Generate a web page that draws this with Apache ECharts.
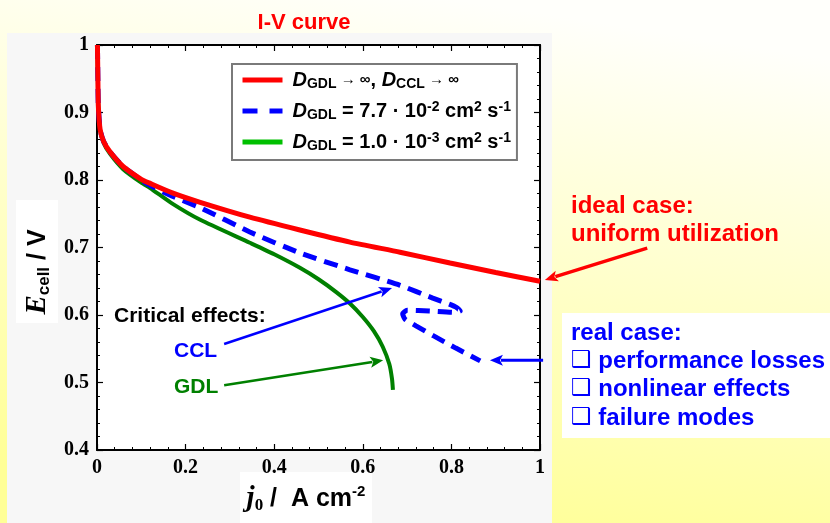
<!DOCTYPE html>
<html>
<head>
<meta charset="utf-8">
<script src="https://cdn.jsdelivr.net/npm/echarts@6/dist/echarts.min.js"></script>
<style>
  html, body { margin: 0; padding: 0; }
  #chart { width: 830px; height: 523px; }
</style>
</head>
<body>
<div id="chart"></div>
<script>
// Cell voltage E_cell (V) versus mean current density j0 (A cm^-2)

// Ideal case: infinite diffusivities in GDL and CCL
const currentIdeal = [0.001, 0.002, 0.003, 0.007, 0.015, 0.029, 0.059, 0.1, 0.12, 0.17, 0.233, 0.345, 0.458, 0.571, 0.684, 0.797, 0.9, 1.0];
const voltageIdeal = [1.0, 0.95, 0.91, 0.875, 0.857, 0.842, 0.820, 0.801, 0.795, 0.781, 0.767, 0.745, 0.726, 0.708, 0.693, 0.677, 0.663, 0.650];

// D_GDL = 7.7e-2 cm2/s: curve folds back near 0.82 A/cm2
const currentCCL = [0.001, 0.002, 0.003, 0.007, 0.015, 0.029, 0.059, 0.1, 0.12, 0.17, 0.233, 0.345, 0.458, 0.571, 0.684, 0.758, 0.795, 0.812, 0.820, 0.808, 0.75, 0.70, 0.69, 0.695, 0.72, 0.76, 0.81, 0.865];
const voltageCCL = [1.0, 0.95, 0.91, 0.875, 0.857, 0.842, 0.820, 0.800, 0.792, 0.776, 0.759, 0.723, 0.692, 0.667, 0.644, 0.625, 0.616, 0.611, 0.606, 0.604, 0.606, 0.607, 0.602, 0.594, 0.584, 0.569, 0.551, 0.532];

// D_GDL = 1.0e-3 cm2/s: limiting current near 0.67 A/cm2
const currentGDL = [0.001, 0.002, 0.003, 0.007, 0.015, 0.029, 0.059, 0.1, 0.12, 0.17, 0.233, 0.345, 0.40, 0.458, 0.50, 0.54, 0.571, 0.6, 0.625, 0.645, 0.66, 0.666, 0.668];
const voltageGDL = [1.0, 0.95, 0.91, 0.874, 0.855, 0.839, 0.816, 0.796, 0.788, 0.765, 0.741, 0.707, 0.690, 0.670, 0.653, 0.634, 0.617, 0.597, 0.576, 0.553, 0.527, 0.505, 0.489];

// Axis ticks
const xTicks = { min: 0, max: 1, step: 0.2 };
const yTicks = { min: 0.4, max: 1, step: 0.1 };

const legendLabels = {
  ideal: '{i|D}{sub|GDL}{sm| \u2192 \u221e}{t|, }{i|D}{sub|CCL}{sm| \u2192 \u221e}',
  ccl: '{i|D}{sub|GDL}{t| = 7.7 \u00b7 10}{sup|-2}{t| cm}{sup|2}{t| s}{sup|-1}',
  gdl: '{i|D}{sub|GDL}{t| = 1.0 \u00b7 10}{sup|-3}{t| cm}{sup|2}{t| s}{sup|-1}'
};

const zip = (xs, ys) => xs.map((x, i) => [x, ys[i]]);

const GRID = { left: 97, top: 45, width: 443, height: 405 };
const SANS = 'Liberation Sans, Arial, sans-serif';
const SERIF = 'Liberation Serif, Times New Roman, serif';
const RED = '#ff0000', BLUE = '#0000ff', GREEN = '#008000', LIGHT_GREEN = '#00c000';
const DASH = [14, 8];

const chart = echarts.init(document.getElementById('chart'), null, { renderer: 'canvas' });

function axisCommon(showLabel) {
  return {
    axisLine: { show: true, onZero: false, lineStyle: { color: '#000', width: 2 } },
    axisTick: { show: true, inside: true, length: 6, lineStyle: { color: '#000', width: 1.2 } },
    minorTick: { show: true, length: 3, lineStyle: { color: '#000', width: 1 } },
    splitLine: { show: false },
    axisLabel: {
      show: showLabel, color: '#000', fontFamily: SERIF, fontWeight: 'bold', fontSize: 20
    }
  };
}

const xBase = { type: 'value', min: xTicks.min, max: xTicks.max, interval: xTicks.step };
const yBase = { type: 'value', min: yTicks.min, max: yTicks.max, interval: yTicks.step };

const option = {
  backgroundColor: new echarts.graphic.LinearGradient(0.55, 0, 0.45, 1, [
    { offset: 0, color: '#fffffb' },
    { offset: 1, color: '#ffff96' }
  ]),
  animation: false,
  title: {
    text: 'I-V curve', left: 299, top: 7, textAlign: 'center',
    textStyle: { color: RED, fontFamily: SANS, fontWeight: 'bold', fontSize: 22 }
  },
  grid: Object.assign({ containLabel: false }, GRID),
  xAxis: [
    Object.assign({}, xBase, axisCommon(true), { position: 'bottom' }),
    Object.assign({}, xBase, axisCommon(false), { position: 'top' })
  ],
  yAxis: [
    Object.assign({}, yBase, axisCommon(true), { position: 'left' }),
    Object.assign({}, yBase, axisCommon(false), { position: 'right' })
  ],
  legend: {
    orient: 'vertical', left: 232, top: 64,
    backgroundColor: '#fff', borderColor: '#7a7a7a', borderWidth: 2, borderRadius: 0,
    padding: [6, 6, 7, 8], itemWidth: 40, itemHeight: 14, itemGap: 9,
    itemStyle: { opacity: 0 },
    data: [
      { name: 'ideal', lineStyle: { color: RED, width: 5 } },
      { name: 'ccl', lineStyle: { color: BLUE, width: 5, type: [15, 12] } },
      { name: 'gdl', lineStyle: { color: LIGHT_GREEN, width: 5 } }
    ],
    formatter: name => legendLabels[name],
    textStyle: {
      color: '#000', fontFamily: SANS, fontWeight: 'bold', fontSize: 20, padding: [0, 0, 0, 5],
      rich: {
        t: { fontFamily: SANS, fontWeight: 'bold', fontSize: 20, lineHeight: 22 },
        i: { fontFamily: SANS, fontWeight: 'bold', fontStyle: 'italic', fontSize: 20, lineHeight: 22 },
        sub: { fontFamily: SANS, fontWeight: 'bold', fontSize: 14, lineHeight: 13, verticalAlign: 'bottom' },
        sup: { fontFamily: SANS, fontWeight: 'bold', fontSize: 14, lineHeight: 13, verticalAlign: 'top' },
        sm: { fontFamily: SANS, fontWeight: 'bold', fontSize: 15, lineHeight: 22 }
      }
    }
  },
  series: [
    {
      name: 'ideal', type: 'line', data: zip(currentIdeal, voltageIdeal), showSymbol: false, symbol: 'none',
      smooth: 0.2, color: RED, lineStyle: { color: RED, width: 5 }, z: 4
    },
    {
      name: 'ccl', type: 'line', data: zip(currentCCL, voltageCCL), showSymbol: false, symbol: 'none',
      smooth: 0.2, color: BLUE, lineStyle: { color: BLUE, width: 5, type: DASH }, z: 3
    },
    {
      name: 'gdl', type: 'line', data: zip(currentGDL, voltageGDL), showSymbol: false, symbol: 'none',
      smooth: 0.2, color: GREEN, lineStyle: { color: GREEN, width: 4 }, z: 2
    }
  ]
};

chart.setOption(option);

// Annotation arrows, given in data units [j0, E]
const arrows = [
  { from: [1.242, 0.699], to: [1.011, 0.652], color: RED, width: 3.5 },
  { from: [0.287, 0.557], to: [0.666, 0.640], color: BLUE, width: 2.5 },
  { from: [0.287, 0.496], to: [0.646, 0.533], color: GREEN, width: 2.5 },
  { from: [1.007, 0.533], to: [0.887, 0.533], color: BLUE, width: 3 }
];

function arrowElements(a) {
  const p0 = chart.convertToPixel({ gridIndex: 0 }, a.from);
  const p1 = chart.convertToPixel({ gridIndex: 0 }, a.to);
  const dx = p1[0] - p0[0], dy = p1[1] - p0[1];
  const len = Math.sqrt(dx * dx + dy * dy);
  const ux = dx / len, uy = dy / len;
  const head = 13, half = 5.5;
  const bx = p1[0] - ux * head, by = p1[1] - uy * head;
  return [
    { type: 'line', z: 50, shape: { x1: p0[0], y1: p0[1], x2: bx + ux * 2, y2: by + uy * 2 },
      style: { stroke: a.color, lineWidth: a.width } },
    { type: 'polygon', z: 50, shape: { points: [
        [p1[0], p1[1]], [bx - uy * half, by + ux * half], [bx + ux * 3, by + uy * 3], [bx + uy * half, by - ux * half]
      ] }, style: { fill: a.color } }
  ];
}

function label(x, y, text, color, size) {
  return {
    type: 'text', x: x, y: y, z: 60,
    style: { text: text, fill: color, font: 'bold ' + size + 'px ' + SANS, textVerticalAlign: 'middle', textAlign: 'left' }
  };
}

const graphics = [
  // panel behind the plot and the white plotting area
  { type: 'rect', z: -10, shape: { x: 7, y: 33, width: 545, height: 490 }, style: { fill: '#f7f7f7' } },
  { type: 'rect', z: -9, shape: { x: GRID.left, y: GRID.top, width: GRID.width, height: GRID.height }, style: { fill: '#ffffff' } },
  // white boxes behind the axis names and the side note
  { type: 'rect', z: -8, shape: { x: 16, y: 200, width: 42, height: 123 }, style: { fill: '#ffffff' } },
  { type: 'rect', z: -8, shape: { x: 240, y: 472, width: 132, height: 51 }, style: { fill: '#ffffff' } },
  { type: 'rect', z: -8, shape: { x: 562, y: 313, width: 268, height: 125 }, style: { fill: '#ffffff' } },
  // axis names
  {
    type: 'text', x: 38, y: 272, rotation: Math.PI / 2, z: 60,
    style: {
      text: '{e|E}{s|cell}{t| / V}', textAlign: 'center', textVerticalAlign: 'middle',
      rich: {
        e: { font: 'italic bold 29px ' + SERIF, fill: '#000', lineHeight: 30 },
        s: { font: 'bold 17px ' + SANS, fill: '#000', lineHeight: 16, verticalAlign: 'bottom' },
        t: { font: 'bold 25px ' + SANS, fill: '#000', lineHeight: 30 }
      }
    }
  },
  {
    type: 'text', x: 306, y: 499, z: 60,
    style: {
      text: '{j|j}{s|0}{t| /  A cm}{p|-2}', textAlign: 'center', textVerticalAlign: 'middle',
      rich: {
        j: { font: 'italic bold 29px ' + SERIF, fill: '#000', lineHeight: 30 },
        s: { font: 'bold 17px ' + SERIF, fill: '#000', lineHeight: 16, verticalAlign: 'bottom' },
        t: { font: 'bold 25px ' + SANS, fill: '#000', lineHeight: 30 },
        p: { font: 'bold 15px ' + SANS, fill: '#000', lineHeight: 15, verticalAlign: 'top' }
      }
    }
  },
  // notes
  label(571, 206, 'ideal case:', RED, 24),
  label(571, 234, 'uniform utilization', RED, 24),
  label(571, 333, 'real case:', BLUE, 24),
  label(114, 316, 'Critical effects:', '#000', 21),
  label(174, 351, 'CCL', BLUE, 21),
  label(174, 387, 'GDL', GREEN, 21)
];

['performance losses', 'nonlinear effects', 'failure modes'].forEach((t, k) => {
  const y = 361 + k * 28.5;
  graphics.push({
    type: 'text', x: 571, y: y, z: 60,
    style: {
      text: '{b|\u2751}{t| ' + t + '}', textVerticalAlign: 'middle', textAlign: 'left',
      rich: {
        b: { font: 'bold 23px DejaVu Sans, sans-serif', fill: BLUE, lineHeight: 26 },
        t: { font: 'bold 24px ' + SANS, fill: BLUE, lineHeight: 26 }
      }
    }
  });
});

arrows.forEach(a => arrowElements(a).forEach(e => graphics.push(e)));

chart.setOption({ graphic: { elements: graphics } });
</script>
</body>
</html>
